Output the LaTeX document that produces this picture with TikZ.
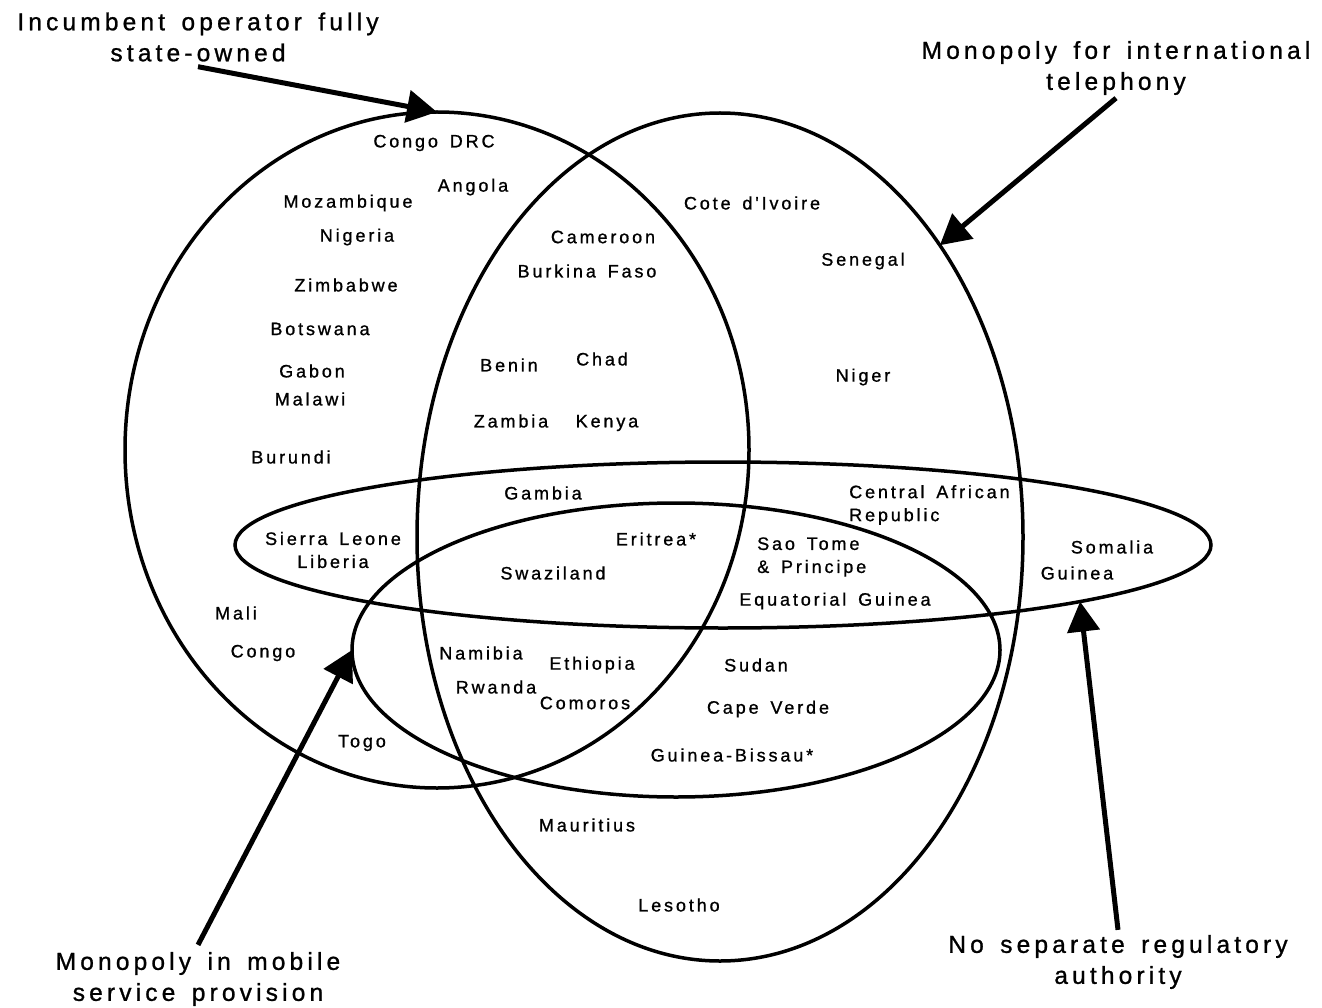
\documentclass[tikz,border=0pt]{standalone}
\usepackage{fontspec}
\setmainfont{Liberation Sans}
\newfontfamily\smallf[LetterSpace=16,WordSpace=1.5,FakeBold=1]{Liberation Sans}
\newfontfamily\bigf[LetterSpace=17,WordSpace=1.5,FakeBold=1]{Liberation Sans}
\usetikzlibrary{shapes.geometric,arrows.meta}
\begin{document}
\begin{tikzpicture}[x=1pt,y=-1pt,
  set/.style={draw,ellipse,line width=3.5pt,inner sep=0pt,outer sep=0pt},
  cty/.style={font=\smallf\fontsize{18}{23}\selectfont,inner sep=0pt,align=center},
  lab/.style={font=\bigf\fontsize{24.5}{31}\selectfont,inner sep=0pt,align=center},
  pointer/.style={line width=5pt,-{Triangle[length=30pt,width=32pt]}}]
\useasboundingbox[fill=white] (0,0) rectangle (1322,1008);

% sets
\node[set,minimum width=624,minimum height=676] (own) at (437,450) {};
\node[set,minimum width=606,minimum height=848] (intl) at (720,537) {};
\node[set,minimum width=976,minimum height=166] (reg) at (723,545) {};
\node[set,minimum width=648,minimum height=294] (mob) at (676,650) {};

% countries
\node[cty] (c1) at (434,143) {Congo DRC};
\node[cty] (c2) at (473,187) {Angola};
\node[cty] (c3) at (348,203) {Mozambique};
\node[cty] (c4) at (357,237) {Nigeria};
\node[cty] (c5) at (752,203) {Cote d'Ivoire};
\node[cty] (c6) at (603,237) {Cameroon};
\node[cty] (c7) at (587,271) {Burkina Faso};
\node[cty] (c8) at (863,261) {Senegal};
\node[cty] (c9) at (346,285) {Zimbabwe};
\node[cty] (c10) at (320,329) {Botswana};
\node[cty] (c11) at (509,365) {Benin};
\node[cty] (c12) at (602,359) {Chad};
\node[cty] (c13) at (312,371) {Gabon};
\node[cty] (c14) at (310,399) {Malawi};
\node[cty] (c15) at (863,377) {Niger};
\node[cty] (c16) at (511,421) {Zambia};
\node[cty] (c17) at (607,423) {Kenya};
\node[cty] (c18) at (291,457) {Burundi};
\node[cty] (c19) at (543,493) {Gambia};
\node[cty,align=left,anchor=west] (c20) at (849,505) {Central African\\Republic};
\node[cty] (c21) at (333,550) {Sierra Leone\\Liberia};
\node[cty] (c22) at (656,539) {Eritrea*};
\node[cty,align=left,anchor=west] (c23) at (757,557) {Sao Tome\\\& Principe};
\node[cty] (c24) at (1112,547) {Somalia};
\node[cty] (c25) at (1077,573) {Guinea};
\node[cty] (c26) at (553,573) {Swaziland};
\node[cty] (c27) at (835,601) {Equatorial Guinea};
\node[cty] (c28) at (236,613) {Mali};
\node[cty] (c29) at (263,653) {Congo};
\node[cty] (c30) at (481,653) {Namibia};
\node[cty] (c31) at (592,665) {Ethiopia};
\node[cty] (c32) at (756,665) {Sudan};
\node[cty] (c33) at (496,687) {Rwanda};
\node[cty] (c34) at (585,703) {Comoros};
\node[cty] (c35) at (768,709) {Cape Verde};
\node[cty] (c36) at (362,743) {Togo};
\node[cty] (c37) at (732,755) {Guinea-Bissau*};
\node[cty] (c38) at (587,825) {Mauritius};
\node[cty] (c39) at (679,905) {Lesotho};

% set labels
\node[lab] (lown) at (198,37) {Incumbent operator fully\\state-owned};
\node[lab] (lintl) at (1116,68) {Monopoly for international\\telephony};
\node[lab] (lmob) at (198,979) {Monopoly in mobile\\service provision};
\node[lab] (lreg) at (1118,962) {No separate regulatory\\authority};

% pointers
\draw[pointer] ([yshift=-5pt]lown.south) -- (own.north);
\draw[pointer] ([yshift=-3pt]lintl.south) -- (intl.53);
\draw[pointer] ([yshift=7pt]lmob.north) -- (mob.west);
\draw[pointer] ([yshift=5pt]lreg.north) -- (reg.-9.8);
\end{tikzpicture}
\end{document}
